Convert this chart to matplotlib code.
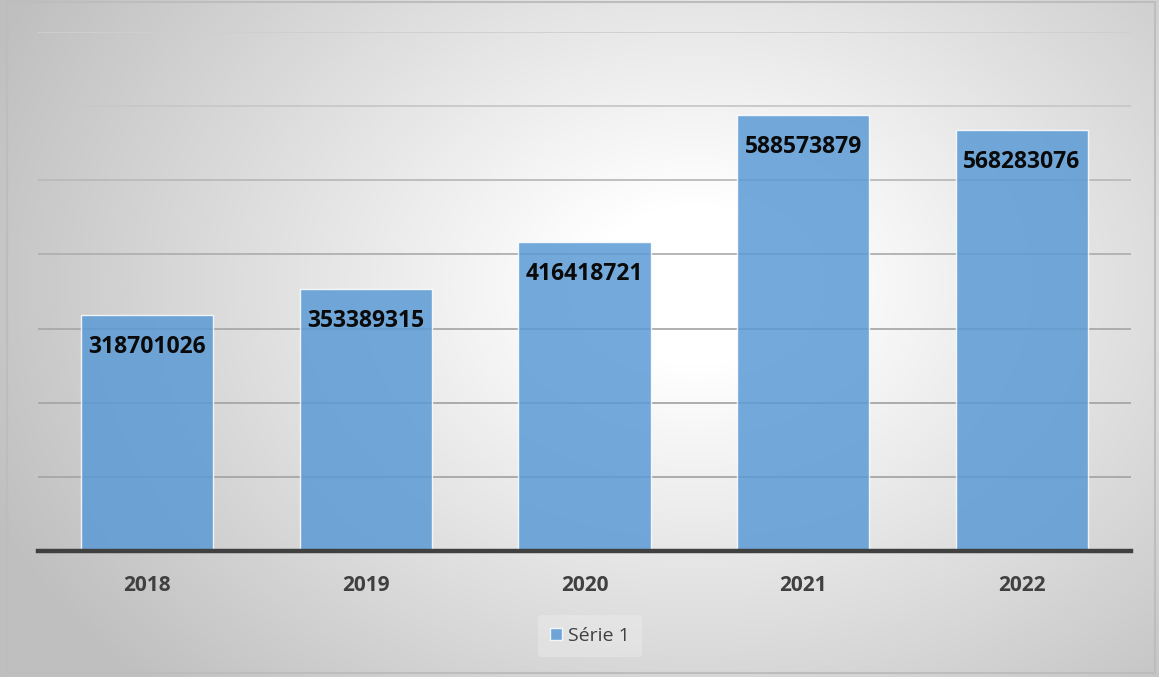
import numpy as np
import matplotlib
matplotlib.use("Agg")
import matplotlib.pyplot as plt
from matplotlib.patches import Rectangle

years = ["2018", "2019", "2020", "2021", "2022"]
values = [318701026, 353389315, 416418721, 588573879, 568283076]
series_name = "Série 1"

W, H, DPI = 1159, 677, 100
fig = plt.figure(figsize=(W / DPI, H / DPI), dpi=DPI)

# background radial gradient
bg = fig.add_axes([0, 0, 1, 1])
yy, xx = np.mgrid[0:H, 0:W]
cx, cy = 0.60 * W, 0.42 * H
d = np.sqrt(((xx - cx) / (0.62 * W)) ** 2 + ((yy - cy) / (0.8 * H)) ** 2)
t = np.clip((d - 0.15) / 0.92, 0, 1)
v = 1.0 - 0.25 * t
img = np.dstack([v, v, v])
bg.imshow(img, extent=[0, W, H, 0], aspect="auto", interpolation="bilinear")
bg.set_xlim(0, W)
bg.set_ylim(H, 0)
bg.axis("off")
bg.add_patch(Rectangle((7, 2), 1148, 671, fill=False, edgecolor="#bdbdbd", linewidth=1.5))

# plot area: x 38..1131, y 32..551 (pixels, top-origin)
left, right, top, bottom = 38, 1131, 32, 551
ax = fig.add_axes([left / W, 1 - bottom / H, (right - left) / W, (bottom - top) / H])
ax.patch.set_alpha(0)
x = np.arange(len(years))
ax.set_xlim(-0.5, len(years) - 0.5)
ax.set_ylim(0, 700_000_000)

grid_vals = np.arange(100_000_000, 700_000_001, 100_000_000)
grid_cols = ["#a6a6a6", "#a6a6a6", "#a9a9a9", "#b0b0b0", "#bababa", "#c8c8c8", "#cfcfcf"]
for gv, gc in zip(grid_vals, grid_cols):
    ax.axhline(gv, color=gc, linewidth=1.3, zorder=1)

bars = ax.bar(x, values, width=0.605, color="#5b9bd5", alpha=0.85, edgecolor="#ffffff",
              linewidth=1.0, zorder=2, label=series_name)
for xi, val in zip(x, values):
    ax.annotate(f"{val}", (xi, val), xytext=(0, -23), textcoords="offset points",
                ha="center", va="center", fontsize=16.5, fontweight="bold",
                fontfamily="Open Sans", color="#0a0a0a", zorder=3)

for s in ["top", "right", "left"]:
    ax.spines[s].set_visible(False)
ax.spines["bottom"].set_color("#404040")
ax.spines["bottom"].set_linewidth(3.2)
ax.spines["bottom"].set_zorder(4)
ax.set_yticks([])
ax.set_xticks(x)
ax.set_xticklabels(years, fontsize=15, fontweight="bold", fontfamily="Open Sans", color="#404040")
ax.tick_params(axis="x", length=0, pad=17)

leg = fig.legend(handles=[bars], labels=[series_name], loc="center",
                 bbox_to_anchor=(590 / W, 1 - 636 / H), frameon=True,
                 prop={"family": "Open Sans", "size": 14}, handlelength=0.6,
                 handleheight=0.6, handletextpad=0.35, borderpad=0.6)
leg.get_frame().set_facecolor("#f2f2f2")
leg.get_frame().set_edgecolor("none")
leg.get_frame().set_alpha(0.35)
for t in leg.get_texts():
    t.set_color("#404040")

fig.savefig("out.png", dpi=DPI)
